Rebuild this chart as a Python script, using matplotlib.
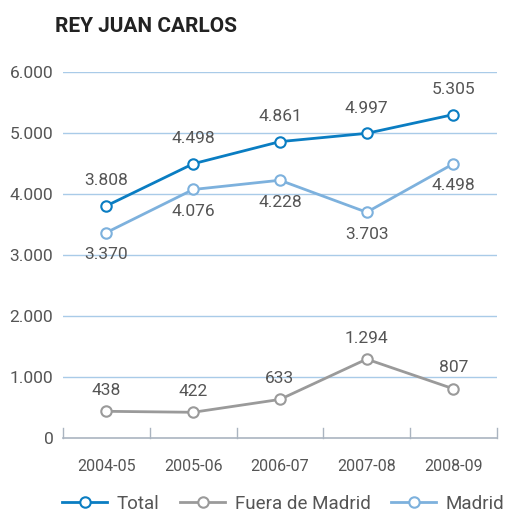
import numpy as np
import matplotlib
matplotlib.use("Agg")
import matplotlib.pyplot as plt

plt.rcParams['font.family'] = ['Roboto', 'DejaVu Sans']

# datos
temporadas = ['2004-05', '2005-06', '2006-07', '2007-08', '2008-09']
total = [3808, 4498, 4861, 4997, 5305]
fuera = [438, 422, 633, 1294, 807]
madrid = [3370, 4076, 4228, 3703, 4498]
y_ticks = [0, 1000, 2000, 3000, 4000, 5000, 6000]
y_labels = ['0', '1.000', '2.000', '3.000', '4.000', '5.000', '6.000']

c_total = '#0a7dc2'
c_fuera = '#9a9a9a'
c_madrid = '#7db1dd'
c_text = '#555555'

def fmt(v):
    return f'{v:,}'.replace(',', '.')

fig = plt.figure(figsize=(5.05, 5.12), dpi=100)
ax = fig.add_axes([0.1248, 0.1445, 0.859, 0.7145])

x = np.arange(len(temporadas))
series = [(total, c_total, 'Total', 18),
          (fuera, c_fuera, 'Fuera de Madrid', 15),
          (madrid, c_madrid, 'Madrid', -16)]
for vals, col, lab, off in series:
    ax.plot(x, vals, color=col, lw=2, marker='o', ms=7.5, mfc='white',
            mec=col, mew=1.5, label=lab, clip_on=False, zorder=3)
    for xi, v in zip(x, vals):
        ax.annotate(fmt(v), (xi, v), xytext=(0, off), textcoords='offset points',
                    ha='center', va='center', fontsize=12.5, color=c_text)

ax.set_xlim(-0.5, 4.5)
ax.set_ylim(0, 6000)
ax.set_yticks(y_ticks)
ax.set_yticklabels(y_labels, fontsize=12.5, color=c_text)
ax.set_xticks(x)
ax.set_xticklabels(temporadas, fontsize=11.5, color=c_text)
ax.tick_params(axis='y', length=0, pad=7)
ax.tick_params(axis='x', length=0, pad=15)
# marcas del eje x entre categorias
for b in np.arange(-0.5, 5, 1):
    ax.plot([b, b], [0, 160], color='#aab4c0', lw=1, clip_on=False, zorder=2)

for t in y_ticks[1:]:
    ax.axhline(t, color='#a9cbe8', lw=1, zorder=1)
for s in ['top', 'right', 'left']:
    ax.spines[s].set_visible(False)
ax.spines['bottom'].set_color('#aab4c0')
ax.spines['bottom'].set_linewidth(1.2)

fig.text(0.109, 0.949, 'REY JUAN CARLOS', fontsize=15, fontweight='bold',
         color='#222222', va='center')

fig.legend(loc='center', bbox_to_anchor=(0.561, 0.016), ncol=3, frameon=False,
           fontsize=13.5, labelcolor=c_text, handlelength=2.4, columnspacing=1.1,
           handletextpad=0.5, borderaxespad=0, borderpad=0)

fig.savefig('out.png', dpi=100, facecolor='white')
